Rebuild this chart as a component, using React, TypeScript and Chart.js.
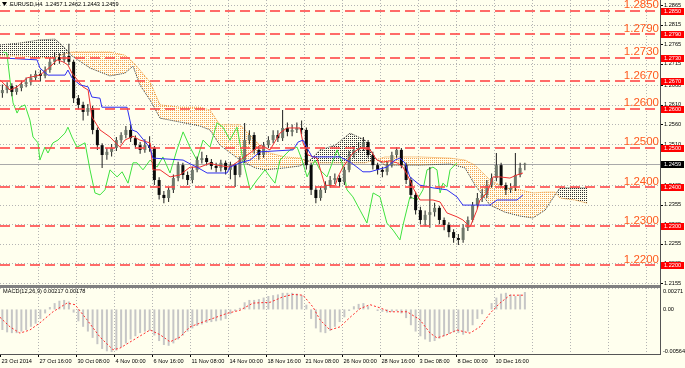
import React, { useEffect, useRef } from 'react';
import { Chart, registerables } from 'chart.js';
Chart.register(...registerables);

// ---------- DATA ----------
const headerText = 'EURUSD,H4  1.2457 1.2462 1.2443 1.2459';
const macdHeader = 'MACD(12,26,9) 0.00217 0.00178';
const lastPrice = 1.2459;

// time axis (H4 bar index)
const timeLabels = ['23 Oct 2014', '27 Oct 16:00', '30 Oct 08:00', '4 Nov 00:00', '6 Nov 16:00', '11 Nov 08:00', '14 Nov 00:00', '18 Nov 16:00', '21 Nov 08:00', '26 Nov 00:00', '28 Nov 16:00', '3 Dec 08:00', '8 Dec 00:00', '10 Dec 16:00'];
const timeLabelBars = [0, 16, 32, 48, 64, 80, 96, 112, 128, 144, 160, 176, 192, 208];
const gridBars = [16, 32, 48, 64, 80, 96, 112, 128, 144, 160, 176, 192, 208, 224, 240, 256, 272];

// price axis
const priceTicks = [1.2865, 1.2815, 1.2765, 1.2715, 1.2660, 1.2610, 1.2560, 1.2510, 1.2405, 1.2355, 1.2305, 1.2255, 1.2205, 1.2155];
const levels = [1.2850, 1.2790, 1.2730, 1.2670, 1.2600, 1.2500, 1.2400, 1.2300, 1.2200];
const macdTicks = [0.00271, 0, -0.00564];
const macdTickText = ['0.00271', '0.00', '-0.00564'];

// candles (one per two H4 bars), bar position = centre bar index
const candleBars = [1,3,5,7,9,11,13,15,17,19,21,23,25,27,29,31,33,35,37,39,41,43,45,47,49,51,53,55,57,59,61,63,65,67,69,71,73,75,77,79,81,83,85,87,89,91,93,95,97,99,101,103,105,107,109,111,113,115,117,119,121,123,125,127,129,131,133,135,137,139,141,143,145,147,149,151,153,155,157,159,161,163,165,167,169,171,173,175,177,179,181,183,185,187,189,191,193,195,197,199,201,203,205,207,209,211,213,215,217,219,221];
const opens = [1.2640,1.2648,1.2658,1.2643,1.2653,1.2663,1.2668,1.2679,1.2689,1.2684,1.2699,1.2720,1.2732,1.2725,1.2735,1.2720,1.2627,1.2610,1.2592,1.2602,1.2546,1.2507,1.2482,1.2490,1.2500,1.2520,1.2533,1.2546,1.2525,1.2507,1.2495,1.2507,1.2500,1.2418,1.2380,1.2372,1.2393,1.2423,1.2456,1.2431,1.2418,1.2444,1.2469,1.2474,1.2464,1.2454,1.2449,1.2462,1.2444,1.2456,1.2431,1.2469,1.2520,1.2533,1.2495,1.2482,1.2507,1.2520,1.2533,1.2525,1.2551,1.2541,1.2546,1.2551,1.2546,1.2456,1.2393,1.2372,1.2393,1.2405,1.2418,1.2423,1.2413,1.2444,1.2482,1.2495,1.2500,1.2515,1.2482,1.2456,1.2444,1.2439,1.2456,1.2482,1.2495,1.2456,1.2418,1.2380,1.2341,1.2316,1.2329,1.2336,1.2347,1.2316,1.2303,1.2285,1.2270,1.2265,1.2296,1.2316,1.2354,1.2372,1.2380,1.2405,1.2423,1.2456,1.2405,1.2393,1.2398,1.2431,1.2457];
const closes = [1.2648,1.2658,1.2643,1.2653,1.2663,1.2668,1.2679,1.2689,1.2684,1.2699,1.2720,1.2732,1.2725,1.2735,1.2720,1.2627,1.2610,1.2592,1.2602,1.2546,1.2507,1.2482,1.2490,1.2500,1.2520,1.2533,1.2546,1.2525,1.2507,1.2495,1.2507,1.2500,1.2418,1.2380,1.2372,1.2393,1.2423,1.2456,1.2431,1.2418,1.2444,1.2469,1.2474,1.2464,1.2454,1.2449,1.2462,1.2444,1.2456,1.2431,1.2469,1.2520,1.2533,1.2495,1.2482,1.2507,1.2520,1.2533,1.2525,1.2551,1.2541,1.2546,1.2551,1.2546,1.2456,1.2393,1.2372,1.2393,1.2405,1.2418,1.2423,1.2413,1.2444,1.2482,1.2495,1.2500,1.2515,1.2482,1.2456,1.2444,1.2439,1.2456,1.2482,1.2495,1.2456,1.2418,1.2380,1.2341,1.2316,1.2329,1.2336,1.2347,1.2316,1.2303,1.2285,1.2270,1.2265,1.2296,1.2316,1.2354,1.2372,1.2380,1.2405,1.2423,1.2456,1.2405,1.2393,1.2398,1.2431,1.2449,1.2459];
const highs = [1.2662,1.2668,1.2665,1.2660,1.2672,1.2680,1.2688,1.2698,1.2700,1.2708,1.2730,1.2745,1.2742,1.2745,1.2766,1.2725,1.2635,1.2618,1.2612,1.2608,1.2552,1.2512,1.2500,1.2510,1.2528,1.2540,1.2556,1.2560,1.2532,1.2515,1.2522,1.2530,1.2505,1.2425,1.2390,1.2400,1.2432,1.2465,1.2462,1.2440,1.2452,1.2478,1.2490,1.2482,1.2472,1.2462,1.2470,1.2468,1.2465,1.2460,1.2478,1.2564,1.2545,1.2540,1.2505,1.2515,1.2530,1.2545,1.2545,1.2597,1.2565,1.2560,1.2565,1.2570,1.2552,1.2462,1.2402,1.2402,1.2415,1.2428,1.2435,1.2430,1.2452,1.2492,1.2505,1.2515,1.2528,1.2520,1.2490,1.2462,1.2452,1.2465,1.2490,1.2502,1.2500,1.2462,1.2425,1.2388,1.2350,1.2340,1.2451,1.2360,1.2352,1.2322,1.2310,1.2292,1.2280,1.2305,1.2325,1.2362,1.2385,1.2395,1.2418,1.2435,1.2487,1.2462,1.2412,1.2410,1.2487,1.2462,1.2462];
const lows = [1.2628,1.2640,1.2632,1.2636,1.2645,1.2655,1.2660,1.2672,1.2670,1.2678,1.2692,1.2712,1.2715,1.2718,1.2712,1.2615,1.2598,1.2570,1.2582,1.2535,1.2495,1.2449,1.2470,1.2478,1.2492,1.2512,1.2525,1.2515,1.2498,1.2485,1.2488,1.2490,1.2405,1.2368,1.2359,1.2362,1.2385,1.2415,1.2420,1.2405,1.2410,1.2438,1.2460,1.2455,1.2445,1.2438,1.2440,1.2432,1.2420,1.2400,1.2425,1.2462,1.2510,1.2485,1.2470,1.2475,1.2500,1.2512,1.2515,1.2518,1.2530,1.2530,1.2538,1.2535,1.2445,1.2380,1.2359,1.2365,1.2385,1.2398,1.2408,1.2400,1.2405,1.2438,1.2475,1.2488,1.2492,1.2475,1.2445,1.2432,1.2425,1.2430,1.2450,1.2475,1.2448,1.2408,1.2370,1.2330,1.2305,1.2300,1.2296,1.2325,1.2305,1.2290,1.2272,1.2258,1.2252,1.2258,1.2288,1.2310,1.2345,1.2362,1.2372,1.2398,1.2415,1.2398,1.2380,1.2385,1.2390,1.2425,1.2443];

// Ichimoku
const tenkanBars = [0,4.2,7.2,11.4,16.8,21.1,24,26.5,28.6,30.3,34.9,37.1,38.7,42.1,46.3,48.4,50.5,52.6,56,58.9,63.2,64.4,67.4,71.6,75.8,80,84.2,88.4,91.4,96.8,101.1,105.3,109.5,113.7,117.9,120.8,126.3,127.6,129.7,133.5,136.8,141.1,142.3,144.4,146.5,148.6,151.6,155.8,158.7,161.3,164.2,167.2,169.7,172.6,173.9,176.8,182.3,185.3,188.2,192.4,194.9,197.9,200.8,202.1,205.1,207.6,210.5,214.7,217.7,220.2];
const tenkan = [1.2674,1.2648,1.2656,1.2679,1.2686,1.2707,1.2725,1.2720,1.2712,1.2691,1.2656,1.2648,1.2579,1.2546,1.2528,1.2515,1.2502,1.2520,1.2530,1.2520,1.2513,1.2444,1.2444,1.2426,1.2431,1.2451,1.2451,1.2461,1.2456,1.2451,1.2469,1.2487,1.2507,1.2495,1.2538,1.2551,1.2551,1.2513,1.2482,1.2474,1.2405,1.2403,1.2426,1.2451,1.2469,1.2487,1.2500,1.2495,1.2469,1.2464,1.2467,1.2462,1.2451,1.2418,1.2398,1.2367,1.2367,1.2362,1.2334,1.2324,1.2316,1.2298,1.2341,1.2367,1.2385,1.2426,1.2426,1.2423,1.2431,1.2436];
const kijunBars = [0,15.6,16.8,20.2,27.4,28.6,30.3,33.7,37.1,38.7,42.1,42.9,53.5,55.6,57.7,63.2,64.4,77.1,79.2,82.9,87.2,95.6,96.8,101.1,105.3,109.5,123.4,125.5,127.6,129.3,131.4,143.2,147.4,150.3,152.8,155.8,158.7,162.9,166.3,168.4,170.5,172.6,176.8,182.3,188.2,192.4,194.9,206.3,209.3,217.7,220.2];
const kijun = [1.2730,1.2725,1.2704,1.2686,1.2686,1.2699,1.2679,1.2661,1.2656,1.2630,1.2627,1.2604,1.2604,1.2546,1.2541,1.2500,1.2474,1.2469,1.2462,1.2451,1.2436,1.2436,1.2451,1.2462,1.2469,1.2490,1.2495,1.2515,1.2520,1.2500,1.2477,1.2477,1.2464,1.2451,1.2439,1.2439,1.2444,1.2451,1.2469,1.2474,1.2462,1.2426,1.2405,1.2398,1.2393,1.2375,1.2354,1.2354,1.2367,1.2367,1.2380];
const chikouBars = [1.3,2.9,4.2,5.5,7.2,8.4,10.5,12.6,13.9,16,16.8,18.9,20.2,22.3,24.4,27.4,28.6,30.3,32.4,35.8,37.9,40,42.1,44.2,46.3,49.3,51.4,53.9,56,57.7,60.2,63.2,66.1,68.6,71.6,74.5,77.1,80,82.9,85.5,88.4,91.4,93.9,96.8,99.8,102.3,105.3,108.2,111.6,113.7,115.8,117.9,122.1,125.1,127.2,129.3,132.6,134.7,137.7,141.9,144,146.1,148.6,151.6,154.5,157.1,160,162.9,165.5,168.4,169.7,172.6,175.6,178.1,179.8,182.3,184,185.3,186.5,188.2,189.5,192.4];
const chikou = [1.2745,1.2742,1.2674,1.2615,1.2589,1.2604,1.2610,1.2571,1.2528,1.2513,1.2469,1.2502,1.2487,1.2513,1.2520,1.2538,1.2553,1.2528,1.2502,1.2513,1.2444,1.2385,1.2380,1.2393,1.2444,1.2426,1.2439,1.2410,1.2462,1.2462,1.2444,1.2469,1.2451,1.2477,1.2436,1.2495,1.2541,1.2502,1.2469,1.2520,1.2502,1.2564,1.2553,1.2520,1.2553,1.2469,1.2393,1.2418,1.2444,1.2426,1.2410,1.2469,1.2495,1.2502,1.2469,1.2426,1.2469,1.2444,1.2426,1.2495,1.2462,1.2393,1.2375,1.2341,1.2308,1.2385,1.2375,1.2308,1.2290,1.2265,1.2303,1.2375,1.2367,1.2393,1.2444,1.2451,1.2444,1.2385,1.2410,1.2400,1.2444,1.2462];
const spanBars = [0,8.4,16.8,23.2,27.4,30.3,37.9,46.3,52.6,56,58.9,63.2,67.4,75.8,84.2,88.4,92.6,101.1,107.4,111.6,120,126.3,130.5,134.7,141.1,147.4,153.7,157.9,162.1,176.8,189.5,195.8,200,206.3,212.6,218.9,224.4,229.5,233.7,235.8,242.1,247.2];
const spanA = [1.2735,1.2735,1.2730,1.2732,1.2740,1.2745,1.2745,1.2745,1.2737,1.2719,1.2699,1.2668,1.2610,1.2604,1.2604,1.2597,1.2559,1.2559,1.2520,1.2490,1.2477,1.2474,1.2464,1.2462,1.2462,1.2462,1.2462,1.2469,1.2477,1.2477,1.2474,1.2469,1.2456,1.2418,1.2398,1.2393,1.2385,1.2387,1.2387,1.2372,1.2367,1.2359];
const spanB = [1.2763,1.2768,1.2776,1.2778,1.2755,1.2735,1.2704,1.2684,1.2691,1.2709,1.2661,1.2622,1.2576,1.2566,1.2556,1.2546,1.2507,1.2469,1.2449,1.2444,1.2449,1.2454,1.2469,1.2495,1.2507,1.2538,1.2520,1.2474,1.2456,1.2456,1.2459,1.2449,1.2405,1.2354,1.2336,1.2326,1.2321,1.2341,1.2380,1.2398,1.2398,1.2398];

// MACD
const macdHist = [-0.0026,-0.0029,-0.0030,-0.0030,-0.0028,-0.0026,-0.0022,-0.0018,-0.0012,-0.0005,0.0003,0.0008,0.0011,0.0012,0.0010,-0.0004,-0.0015,-0.0022,-0.0028,-0.0036,-0.0044,-0.0050,-0.0053,-0.0054,-0.0052,-0.0048,-0.0043,-0.0038,-0.0034,-0.0030,-0.0028,-0.0027,-0.0033,-0.0040,-0.0045,-0.0046,-0.0043,-0.0038,-0.0033,-0.0028,-0.0024,-0.0021,-0.0019,-0.0017,-0.0016,-0.0015,-0.0014,-0.0012,-0.0006,-0.0002,0.0002,0.0009,0.0012,0.0012,0.0013,0.0015,0.0017,0.0018,0.0019,0.0021,0.0021,0.0021,0.0020,0.0018,0.0006,-0.0012,-0.0024,-0.0029,-0.0030,-0.0027,-0.0022,-0.0016,-0.0010,-0.0002,0.0004,0.0007,0.0008,0.0004,0.0000,-0.0002,-0.0003,-0.0004,-0.0003,-0.0002,-0.0005,-0.0011,-0.0020,-0.0028,-0.0034,-0.0038,-0.0041,-0.0040,-0.0037,-0.0034,-0.0031,-0.0029,-0.0030,-0.0032,-0.0028,-0.0020,-0.0012,-0.0006,0.0000,0.0008,0.0015,0.0020,0.0021,0.0019,0.0017,0.0019,0.0022];
const signalBars = [0,4.2,8.4,12.6,16.8,22.3,28.2,31.6,36.6,42.1,47.6,50.5,56,63.2,67.4,71.6,75.8,80,87.2,95.6,101.1,106.5,113.7,119.2,123.4,127.6,131.8,134.7,138.9,143.2,147.4,151.6,155.8,160,164.2,171.4,176.8,181.1,184,188.2,192.4,197.9,202.1,206.3,210.5,214.7,220.2];
const signal = [-0.0010,-0.0022,-0.0030,-0.0026,-0.0017,-0.0003,0.0008,0.0006,-0.0013,-0.0035,-0.0051,-0.0049,-0.0039,-0.0026,-0.0032,-0.0041,-0.0035,-0.0022,-0.0014,-0.0005,-0.0001,0.0008,0.0009,0.0016,0.0019,0.0018,0.0003,-0.0013,-0.0026,-0.0022,-0.0010,0.0001,0.0006,0.0002,-0.0003,-0.0003,-0.0013,-0.0030,-0.0036,-0.0032,-0.0026,-0.0030,-0.0022,-0.0005,0.0008,0.0018,0.0018];

// ---------- STYLE ----------
const BG = '#FFFFEE';
const FONT = '"Liberation Sans", Arial, sans-serif';
const SMALL = `5.6px ${FONT}`;
const X_MAX = 277.9;
const W = 685;
const MAIN_H = 286;
const MACD_H = 82;

function dots(color: string) {
  const c = document.createElement('canvas');
  c.width = 2; c.height = 2;
  const g = c.getContext('2d')!;
  g.fillStyle = color;
  g.fillRect(0, 0, 1, 1);
  return g.createPattern(c, 'repeat')!;
}

const pts = (xs: number[], ys: number[]) => xs.map((x, i) => ({ x, y: ys[i] }));

const mainPlugin = {
  id: 'mt4main',
  beforeDatasetsDraw(chart: any) {
    const { ctx, chartArea: a, scales } = chart;
    const x = scales.x, y = scales.y;
    ctx.save();
    ctx.lineWidth = 1;
    ctx.strokeStyle = '#b4b4b4';
    ctx.setLineDash([1, 2]);
    for (const v of priceTicks) {
      const py = Math.round(y.getPixelForValue(v)) + 0.5;
      ctx.beginPath(); ctx.moveTo(a.left, py); ctx.lineTo(a.right, py); ctx.stroke();
    }
    for (const b of gridBars) {
      const px = Math.round(x.getPixelForValue(b)) + 0.5;
      ctx.beginPath(); ctx.moveTo(px, a.top); ctx.lineTo(px, a.bottom); ctx.stroke();
    }
    ctx.setLineDash([]);
    ctx.strokeStyle = '#a9a9a9';
    const py = Math.round(y.getPixelForValue(lastPrice)) + 0.5;
    ctx.beginPath(); ctx.moveTo(a.left, py); ctx.lineTo(a.right, py); ctx.stroke();
    ctx.restore();
  },
  afterDatasetsDraw(chart: any) {
    const { ctx, chartArea: a, scales } = chart;
    const y = scales.y;
    ctx.save();
    ctx.lineWidth = 2;
    ctx.strokeStyle = 'rgba(255,70,70,0.8)';
    ctx.setLineDash([10, 5]);
    for (const v of levels) {
      const py = Math.round(y.getPixelForValue(v));
      ctx.beginPath(); ctx.moveTo(a.left, py); ctx.lineTo(a.right, py); ctx.stroke();
    }
    ctx.setLineDash([]);
    ctx.fillStyle = '#FF5A1E';
    ctx.font = `11.5px ${FONT}`;
    ctx.textAlign = 'right';
    ctx.textBaseline = 'alphabetic';
    for (const v of levels) {
      const py = y.getPixelForValue(v);
      ctx.fillText(v.toFixed(4), a.right - 1, py - 2.5);
    }
    ctx.restore();
  },
  afterDraw(chart: any) {
    const { ctx, chartArea: a, scales } = chart;
    const y = scales.y;
    ctx.save();
    ctx.fillStyle = '#555';
    ctx.fillRect(a.right, 0, 1, chart.height);
    ctx.fillStyle = '#808080';
    ctx.fillRect(0, chart.height - 1, a.right, 1);
    ctx.font = SMALL;
    ctx.textBaseline = 'middle';
    ctx.textAlign = 'left';
    for (const v of priceTicks) {
      const py = y.getPixelForValue(v);
      ctx.fillStyle = '#000';
      ctx.fillRect(a.right + 1, Math.round(py), 2, 1);
      ctx.fillText(v.toFixed(4), a.right + 4, py);
    }
    for (const v of levels) {
      const py = y.getPixelForValue(v);
      ctx.fillStyle = '#FF0000';
      ctx.fillRect(a.right + 1, Math.round(py) - 3, 23, 7);
      ctx.fillStyle = '#FFFFFF';
      ctx.fillText(v.toFixed(4), a.right + 4, py + 0.5);
    }
    const cp = y.getPixelForValue(lastPrice);
    ctx.fillStyle = '#000';
    ctx.fillRect(a.right + 1, Math.round(cp) - 3, 23, 7);
    ctx.fillStyle = '#fff';
    ctx.fillText(lastPrice.toFixed(4), a.right + 4, cp + 0.5);
    ctx.fillStyle = '#000';
    ctx.beginPath(); ctx.moveTo(2, 2); ctx.lineTo(7, 2); ctx.lineTo(4.5, 6); ctx.closePath(); ctx.fill();
    ctx.fillText(headerText, 10, 4.5);
    ctx.restore();
  },
};

const macdPlugin = {
  id: 'mt4macd',
  beforeDatasetsDraw(chart: any) {
    const { ctx, chartArea: a, scales } = chart;
    const x = scales.x;
    ctx.save();
    ctx.lineWidth = 1;
    ctx.strokeStyle = '#b4b4b4';
    ctx.setLineDash([1, 2]);
    for (const b of gridBars) {
      const px = Math.round(x.getPixelForValue(b)) + 0.5;
      ctx.beginPath(); ctx.moveTo(px, a.top); ctx.lineTo(px, a.bottom); ctx.stroke();
    }
    const ty = Math.round(a.top) + 0.5;
    ctx.beginPath(); ctx.moveTo(a.left, ty); ctx.lineTo(a.right, ty); ctx.stroke();
    ctx.restore();
  },
  afterDraw(chart: any) {
    const { ctx, chartArea: a, scales } = chart;
    const x = scales.x, y = scales.y;
    ctx.save();
    ctx.fillStyle = '#808080';
    ctx.fillRect(0, 0, a.right, 2);
    ctx.fillStyle = '#555';
    ctx.fillRect(a.right, 0, 1, a.bottom + 1);
    ctx.fillRect(0, Math.round(a.bottom), a.right + 1, 1);
    ctx.font = SMALL;
    ctx.fillStyle = '#000';
    ctx.textBaseline = 'middle';
    ctx.textAlign = 'left';
    ctx.fillText(macdHeader, 3, a.top + 3.5);
    macdTicks.forEach((v, i) => {
      let py = y.getPixelForValue(v);
      if (i === 0) py = a.top + 3;
      if (i === macdTicks.length - 1) py = a.bottom - 3;
      ctx.fillText(macdTickText[i], a.right + 3, py);
    });
    timeLabelBars.forEach((b, i) => {
      const px = Math.round(x.getPixelForValue(b));
      ctx.fillRect(px, a.bottom + 1, 1, 2);
      ctx.fillText(timeLabels[i], px + 1.5, a.bottom + 7);
    });
    ctx.restore();
  },
};

export default function App() {
  const mainRef = useRef<HTMLCanvasElement>(null);
  const macdRef = useRef<HTMLCanvasElement>(null);

  useEffect(() => {
    document.body.style.margin = '0';
    const orange = dots('#F6A554');
    const black = dots('#333333');
    const bull = closes.map((c, i) => c >= opens[i]);

    const main = new Chart(mainRef.current!, {
      type: 'bar',
      data: {
        datasets: [
          {
            type: 'line', label: 'Senkou A', data: pts(spanBars, spanA),
            borderColor: '#F0922E', borderWidth: 1, borderDash: [1, 1], pointRadius: 0,
            fill: { target: 1, above: orange, below: black }, order: 20,
          } as any,
          {
            type: 'line', label: 'Senkou B', data: pts(spanBars, spanB),
            borderColor: '#3a3a3a', borderWidth: 1, borderDash: [1, 1], pointRadius: 0, fill: false, order: 19,
          },
          {
            type: 'line', label: 'Chikou', data: pts(chikouBars, chikou),
            borderColor: '#3FE23F', borderWidth: 1, pointRadius: 0, order: 10,
          },
          {
            type: 'bar', label: 'wick', data: candleBars.map((b, i) => ({ x: b, y: [lows[i], highs[i]] })) as any,
            backgroundColor: '#1e1e1e', barThickness: 1, grouped: false, order: 8, inflateAmount: 0,
          } as any,
          {
            type: 'bar', label: 'body', data: candleBars.map((b, i) => ({ x: b, y: [opens[i], closes[i]] })) as any,
            backgroundColor: bull.map((u) => (u ? '#6f786b' : '#0a0a0a')),
            barThickness: 3, grouped: false, minBarLength: 1, order: 7, inflateAmount: 0,
          } as any,
          {
            type: 'line', label: 'Tenkan', data: pts(tenkanBars, tenkan),
            borderColor: '#F03030', borderWidth: 1, pointRadius: 0, order: 5,
          },
          {
            type: 'line', label: 'Kijun', data: pts(kijunBars, kijun),
            borderColor: '#2F2FF0', borderWidth: 1, pointRadius: 0, order: 4,
          },
        ],
      },
      options: {
        animation: false,
        responsive: false,
        devicePixelRatio: 1,
        layout: { padding: { left: 0, top: 0, right: W - 660, bottom: 0 }, autoPadding: false },
        plugins: { legend: { display: false }, tooltip: { enabled: false } },
        scales: {
          x: { type: 'linear', display: false, min: 0, max: X_MAX, offset: false },
          y: { type: 'linear', display: false, min: 1.21473, max: 1.28779, beginAtZero: false },
        },
      },
      plugins: [mainPlugin],
    } as any);

    const macd = new Chart(macdRef.current!, {
      type: 'bar',
      data: {
        datasets: [
          {
            type: 'bar', label: 'MACD', data: candleBars.map((b, i) => ({ x: b, y: macdHist[i] })) as any,
            backgroundColor: '#c6c6c6', barThickness: 2, grouped: false, order: 2, inflateAmount: 0,
          } as any,
          {
            type: 'line', label: 'Signal', data: pts(signalBars, signal),
            borderColor: '#FF2a2a', borderWidth: 1, borderDash: [2, 2], pointRadius: 0, order: 1,
          },
        ],
      },
      options: {
        animation: false,
        responsive: false,
        devicePixelRatio: 1,
        layout: { padding: { left: 0, top: 2, right: W - 660, bottom: 14 }, autoPadding: false },
        plugins: { legend: { display: false }, tooltip: { enabled: false } },
        scales: {
          x: { type: 'linear', display: false, min: 0, max: X_MAX, offset: false },
          y: { type: 'linear', display: false, min: -0.00564, max: 0.00271, beginAtZero: false },
        },
      },
      plugins: [macdPlugin],
    } as any);

    return () => { main.destroy(); macd.destroy(); };
  }, []);

  return (
    <div style={{ position: 'fixed', left: 0, top: 0, width: W, height: 368, background: BG, overflow: 'hidden' }}>
      <canvas ref={mainRef} width={W} height={MAIN_H} style={{ position: 'absolute', left: 0, top: 0, width: W, height: MAIN_H }} />
      <canvas ref={macdRef} width={W} height={MACD_H} style={{ position: 'absolute', left: 0, top: MAIN_H, width: W, height: MACD_H }} />
    </div>
  );
}
